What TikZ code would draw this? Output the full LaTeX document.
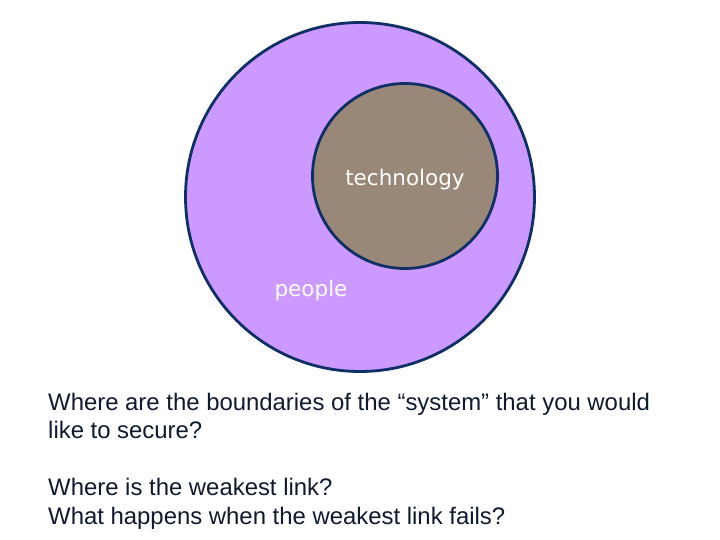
\documentclass[tikz,border=0pt]{standalone}
\usepackage{fontspec}
\setmainfont{Liberation Sans}
\newfontfamily\labelfont{DejaVu Sans}
\usetikzlibrary{positioning}
\definecolor{ppurple}{HTML}{CC99FF}
\definecolor{tbrown}{HTML}{998877}
\definecolor{rnavy}{HTML}{0F2F66}
\definecolor{qtext}{HTML}{0F1A2E}
\tikzset{
  ring/.style={circle, draw=rnavy, line width=2.8pt, inner sep=0pt},
  ringlabel/.style={text=white, font=\labelfont\fontsize{21.5}{24}\selectfont, inner sep=0pt},
}
\begin{document}
\begin{tikzpicture}[x=1pt, y=-1pt]
 \useasboundingbox (0,0) rectangle (720,540);
 \node[ring, fill=ppurple, minimum size=349pt] (people) at (360,197) {};
 \node[ring, fill=tbrown, minimum size=185pt] (tech) at (405,176) {};
 \node[ringlabel] (techlabel) at (405,180) {technology};
 \node[ringlabel] (peoplelabel) at (311,291) {people};
 % the base anchor of this node sits on its last line
 \node[anchor=base west, align=left, inner sep=0pt, text=qtext,
       font=\fontsize{23.9}{28.5}\selectfont] (questions) at (48,524)
  {Where are the boundaries of the “system” that you would\\
   like to secure?\\[28.5pt]
   Where is the weakest link?\\
   What happens when the weakest link fails?};
\end{tikzpicture}
\end{document}
